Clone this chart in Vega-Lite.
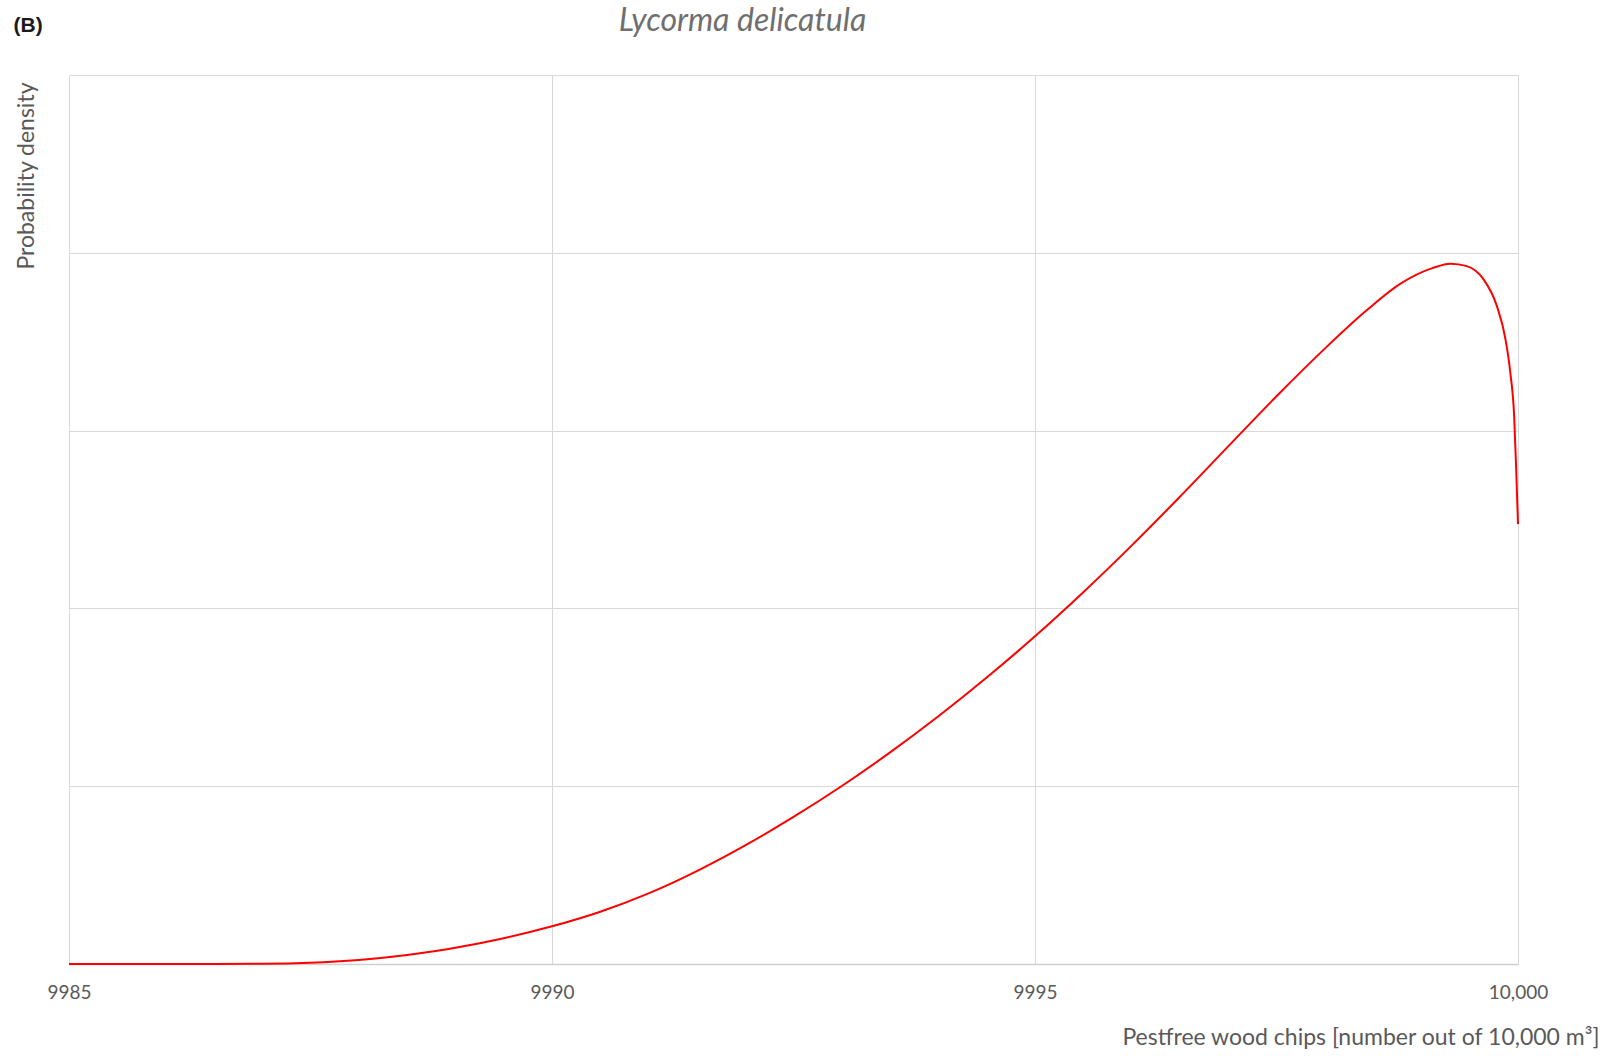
{
  "$schema": "https://vega.github.io/schema/vega-lite/v6.json",
  "width": 1449,
  "height": 889,
  "autosize": {"type": "none"},
  "padding": {"left": 69, "top": 75, "right": 94, "bottom": 92},
  "background": "white",
  "config": {"view": {"stroke": null}},
  "title": {
    "text": "Lycorma delicatula",
    "anchor": "middle",
    "frame": "group",
    "dx": -51,
    "offset": -49,
    "baseline": "alphabetic",
    "font": "Lato",
    "fontStyle": "italic",
    "fontWeight": "normal",
    "fontSize": 32,
    "color": "#6f6f6f"
  },
  "data": {
    "values": [
      {"x": 9985, "y": 0},
      {"x": 9986, "y": 0},
      {"x": 9986.5, "y": 0.0002},
      {"x": 9987, "y": 0.001},
      {"x": 9987.5, "y": 0.007},
      {"x": 9988.0, "y": 0.023},
      {"x": 9988.5, "y": 0.051},
      {"x": 9989.0, "y": 0.091},
      {"x": 9989.5, "y": 0.145},
      {"x": 9990.0, "y": 0.212},
      {"x": 9990.5, "y": 0.294},
      {"x": 9991.0, "y": 0.397},
      {"x": 9991.53, "y": 0.531},
      {"x": 9992.0, "y": 0.667},
      {"x": 9992.5, "y": 0.827},
      {"x": 9993.0, "y": 1.001},
      {"x": 9993.5, "y": 1.19},
      {"x": 9994.0, "y": 1.393},
      {"x": 9994.5, "y": 1.611},
      {"x": 9995.0, "y": 1.843},
      {"x": 9995.5, "y": 2.091},
      {"x": 9996.0, "y": 2.353},
      {"x": 9996.5, "y": 2.628},
      {"x": 9997.0, "y": 2.911},
      {"x": 9997.5, "y": 3.193},
      {"x": 9998.0, "y": 3.461},
      {"x": 9998.43, "y": 3.675},
      {"x": 9998.78, "y": 3.825},
      {"x": 9999.12, "y": 3.915},
      {"x": 9999.3, "y": 3.939},
      {"x": 9999.47, "y": 3.925},
      {"x": 9999.64, "y": 3.853},
      {"x": 9999.78, "y": 3.703},
      {"x": 9999.87, "y": 3.515},
      {"x": 9999.92, "y": 3.328},
      {"x": 9999.96, "y": 3.083},
      {"x": 9999.98, "y": 2.802},
      {"x": 10000.0, "y": 2.474}
    ]
  },
  "layer": [
    {
      "mark": {"type": "line", "color": "#ff0000", "strokeWidth": 2, "interpolate": "monotone"},
      "encoding": {
        "x": {
          "field": "x",
          "type": "quantitative",
          "scale": {"domain": [9985, 10000], "nice": false, "zero": false},
          "axis": {
            "orient": "bottom",
            "values": [9985, 9990, 9995, 10000],
            "labelExpr": "datum.value >= 10000 ? format(datum.value, ',') : format(datum.value, 'd')",
            "ticks": false,
            "tickSize": 0,
            "labelPadding": 28,
            "labelBaseline": "middle",
            "labelFont": "Lato",
            "labelFontSize": 19,
            "labelColor": "#595959",
            "labelFlush": false,
            "labelOverlap": false,
            "domain": true,
            "domainColor": "#d0d0d0",
            "domainWidth": 1.5,
            "grid": true,
            "gridColor": "#d9d9d9",
            "gridWidth": 1,
            "title": "Pestfree wood chips [number out of 10,000 m³]",
            "titleFont": "Lato",
            "titleFontSize": 23,
            "titleFontWeight": "normal",
            "titleColor": "#595959",
            "titleAlign": "right",
            "titleAnchor": null,
            "titleBaseline": "middle",
            "titleX": 1530,
            "titleY": 73
          }
        },
        "y": {
          "field": "y",
          "type": "quantitative",
          "scale": {"domain": [0, 5], "nice": false},
          "axis": {
            "values": [0, 1, 2, 3, 4, 5],
            "labels": false,
            "ticks": false,
            "tickSize": 0,
            "domain": false,
            "grid": true,
            "gridColor": "#d9d9d9",
            "gridWidth": 1,
            "title": "Probability density",
            "titleFont": "Lato",
            "titleFontSize": 23,
            "titleFontWeight": "normal",
            "titleColor": "#595959",
            "titleAngle": -90,
            "titleAlign": "right",
            "titleBaseline": "middle",
            "titleX": -43,
            "titleY": 7
          }
        }
      }
    },
    {
      "mark": {"type": "rule", "opacity": 0},
      "encoding": {
        "x": {
          "field": "x",
          "type": "quantitative",
          "axis": {
            "orient": "top",
            "labels": false,
            "ticks": false,
            "domain": false,
            "grid": false,
            "title": "(B)",
            "titleFont": "Liberation Sans",
            "titleFontWeight": "bold",
            "titleFontSize": 21,
            "titleColor": "#1a1a1a",
            "titleAlign": "left",
            "titleBaseline": "middle",
            "titleX": -56,
            "titleY": -50
          }
        }
      }
    }
  ],
  "resolve": {"axis": {"x": "independent"}}
}
